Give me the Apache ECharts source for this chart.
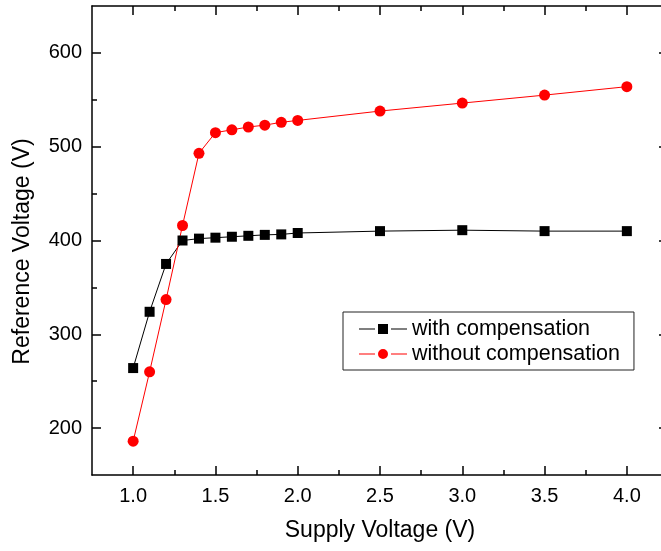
<!DOCTYPE html>
<html>
<head>
<meta charset="utf-8">
<script src="https://cdn.jsdelivr.net/npm/echarts@6/dist/echarts.min.js"></script>
<style>
html,body{margin:0;padding:0;background:#fff;}
#c{width:661px;height:551px;}
</style>
</head>
<body>
<div id="c"></div>
<script>
// ---- data ----
const supplyVoltage = [1.0, 1.1, 1.2, 1.3, 1.4, 1.5, 1.6, 1.7, 1.8, 1.9, 2.0, 2.5, 3.0, 3.5, 4.0];
const withCompensation = [264, 324, 375, 400, 402, 403, 404, 405, 406, 406.5, 408, 410, 411, 410, 410];
const withoutCompensation = [186, 260, 337, 416, 493, 515, 518, 521, 523, 526, 528, 538, 546.5, 555, 564];
const seriesNames = ['with compensation', 'without compensation'];
const xMajorTicks = [1.0, 1.5, 2.0, 2.5, 3.0, 3.5, 4.0];
const xMinorTicks = [1.25, 1.75, 2.25, 2.75, 3.25, 3.75];
const yMajorTicks = [200, 300, 400, 500, 600];
const yMinorTicks = [250, 350, 450, 550];
const xRange = [0.75, 4.25];
const yRange = [150, 650];
const xTitle = 'Supply Voltage (V)';
const yTitle = 'Reference Voltage (V)';

const FONT = 'Liberation Sans, Arial, sans-serif';
const lineCol = '#000';

function xAxisDef(position, ticks, len, showLine, showLabel, extra) {
  return Object.assign({
    type: 'value', position: position, min: xRange[0], max: xRange[1],
    axisLine: {show: showLine, onZero: false, lineStyle: {color: lineCol, width: 1.5}},
    axisTick: {show: true, inside: true, length: len, customValues: ticks, lineStyle: {color: lineCol, width: 1.5}},
    axisLabel: showLabel ? {show: true, customValues: ticks, formatter: v => Number(v).toFixed(1), fontSize: 20, fontFamily: FONT, color: '#000', margin: 11} : {show: false},
    splitLine: {show: false}
  }, extra || {});
}
function yAxisDef(position, ticks, len, showLine, showLabel, extra) {
  return Object.assign({
    type: 'value', position: position, min: yRange[0], max: yRange[1],
    axisLine: {show: showLine, onZero: false, lineStyle: {color: lineCol, width: 1.5}},
    axisTick: {show: true, inside: true, length: len, customValues: ticks, lineStyle: {color: lineCol, width: 1.5}},
    axisLabel: showLabel ? {show: true, customValues: ticks, formatter: v => String(v), fontSize: 20, fontFamily: FONT, color: '#000', margin: 10} : {show: false},
    splitLine: {show: false}
  }, extra || {});
}

const iconSquare = 'path://M0,4.5H16V5.5H0Z M19,0H29V10H19Z M32,4.5H48V5.5H32Z';
const iconCircle = 'path://M0,4.5H16V5.5H0Z M32,4.5H48V5.5H32Z M19,5A5,5 0 1 1 29,5A5,5 0 1 1 19,5Z';

const chart = echarts.init(document.getElementById('c'), null, {renderer: 'canvas'});
chart.setOption({
  animation: false,
  backgroundColor: '#fff',
  grid: {left: 92, top: 6, width: 576, height: 469, containLabel: false, outerBoundsMode: 'none'},
  xAxis: [
    xAxisDef('bottom', xMajorTicks, 9, true, true, {
      name: xTitle, nameLocation: 'middle', nameGap: 44,
      nameTextStyle: {fontSize: 23, fontFamily: FONT, color: '#000'}
    }),
    xAxisDef('bottom', xMinorTicks, 5, false, false),
    xAxisDef('top', xMajorTicks, 9, true, false),
    xAxisDef('top', xMinorTicks, 5, false, false)
  ],
  yAxis: [
    yAxisDef('left', yMajorTicks, 9, true, true, {
      name: yTitle, nameLocation: 'middle', nameGap: 58,
      nameTextStyle: {fontSize: 23, fontFamily: FONT, color: '#000', padding: [0, 22, 0, 0]}
    }),
    yAxisDef('left', yMinorTicks, 5, false, false),
    yAxisDef('right', yMajorTicks, 9, true, false),
    yAxisDef('right', yMinorTicks, 5, false, false)
  ],
  legend: {
    orient: 'vertical', left: 343, top: 312,
    padding: [6, 14, 5, 16], itemGap: 3,
    itemWidth: 48, itemHeight: 10,
    borderColor: '#222', borderWidth: 1, borderRadius: 0,
    textStyle: {fontSize: 21.5, fontFamily: FONT, color: '#000'},
    data: [
      {name: seriesNames[0], icon: iconSquare},
      {name: seriesNames[1], icon: iconCircle}
    ]
  },
  series: [
    {
      name: seriesNames[0], type: 'line', xAxisIndex: 0, yAxisIndex: 0,
      data: supplyVoltage.map((x, i) => [x, withCompensation[i]]),
      symbol: 'rect', symbolSize: 10, showSymbol: true,
      lineStyle: {color: '#000', width: 1},
      itemStyle: {color: '#000', borderWidth: 0}
    },
    {
      name: seriesNames[1], type: 'line', xAxisIndex: 0, yAxisIndex: 0,
      data: supplyVoltage.map((x, i) => [x, withoutCompensation[i]]),
      symbol: 'circle', symbolSize: 11, showSymbol: true,
      lineStyle: {color: '#ff0000', width: 1},
      itemStyle: {color: '#ff0000', borderWidth: 0}
    }
  ]
});
</script>
</body>
</html>
